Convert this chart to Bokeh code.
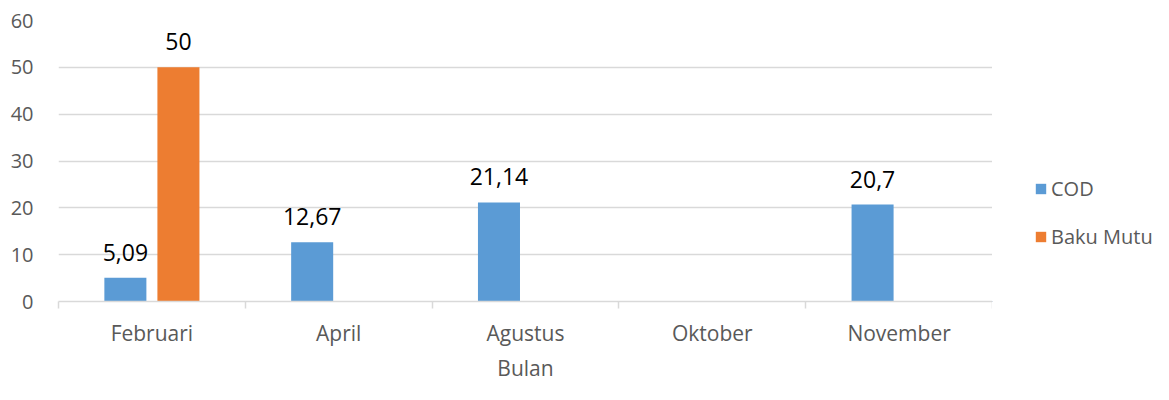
from bokeh.plotting import figure
from bokeh.layouts import row
from bokeh.models import (ColumnDataSource, Range1d, FixedTicker, Legend, LegendItem, LabelSet)
from bokeh.core.properties import value
from bokeh.embed import file_html
from bokeh.resources import INLINE

# ---- data ----
months = ["Februari", "April", "Agustus", "Oktober", "November"]
cod = [5.09, 12.67, 21.14, None, 20.7]
baku_mutu = [50, None, None, None, None]
y_ticks = [0, 10, 20, 30, 40, 50, 60]
series_names = ["COD", "Baku Mutu"]

FONT = "Open Sans"
GRAY = "#595959"
GRID = "#d9d9d9"
BLUE = "#5b9bd5"
ORANGE = "#ed7d31"

def fmt(v):
    if float(v).is_integer():
        return str(int(v))
    return str(v).replace(".", ",")

def build(vals, offset):
    xs, ys, labels = [], [], []
    for i, v in enumerate(vals):
        if v is None:
            continue
        xs.append(i + 0.5 + offset)
        ys.append(v)
        labels.append(fmt(v))
    return ColumnDataSource(dict(x=xs, top=ys, label=labels))

src_cod = build(cod, -0.142)
src_bm = build(baku_mutu, 0.142)

p = figure(width=992, height=384, output_backend="svg", toolbar_location=None,
           x_range=Range1d(0, len(months)), y_range=Range1d(0, 60),
           min_border_left=58, min_border_top=20, min_border_bottom=70, min_border_right=0)
p.outline_line_color = None
p.background_fill_color = "white"
p.border_fill_color = "white"

p.vbar(x="x", top="top", bottom=0, width=0.225, source=src_cod, color=BLUE, line_color=None)
p.vbar(x="x", top="top", bottom=0, width=0.225, source=src_bm, color=ORANGE, line_color=None)

for src in (src_cod, src_bm):
    p.add_layout(LabelSet(x="x", y="top", text="label", source=src, text_align="center",
                          text_baseline="alphabetic", y_offset=17, text_font=value(FONT),
                          text_font_size=value("23px"), text_color=value("black")))

# axes
xa = p.xaxis[0]
xa.ticker = FixedTicker(ticks=[i + 0.5 for i in range(len(months))],
                        minor_ticks=list(range(len(months) + 1)))
xa.major_label_overrides = {i + 0.5: m for i, m in enumerate(months)}
xa.major_tick_in = 0
xa.major_tick_out = 0
xa.minor_tick_in = 0
xa.minor_tick_out = 7
xa.minor_tick_line_color = GRID
xa.minor_tick_line_width = 1.5
xa.axis_line_color = GRID
xa.axis_line_width = 1.5
xa.major_label_text_font = FONT
xa.major_label_text_font_size = "21px"
xa.major_label_text_color = GRAY
xa.major_label_standoff = 10
xa.axis_label = "Bulan"
xa.axis_label_text_font = FONT
xa.axis_label_text_font_size = "21px"
xa.axis_label_text_color = GRAY
xa.axis_label_text_font_style = "normal"
xa.axis_label_standoff = 4

ya = p.yaxis[0]
ya.ticker = FixedTicker(ticks=y_ticks)
ya.axis_line_color = None
ya.major_tick_line_color = None
ya.minor_tick_line_color = None
ya.major_label_text_font = FONT
ya.major_label_text_font_size = "20px"
ya.major_label_text_color = GRAY
ya.major_label_standoff = 19

p.xgrid.grid_line_color = None
p.ygrid.ticker = FixedTicker(ticks=y_ticks[1:])
p.ygrid.grid_line_color = GRID
p.ygrid.grid_line_width = 1.5

# legend panel (separate figure so the legend sits outside the plot frame);
# its ranges keep the proxy bars out of view, only the legend swatches show
q = figure(width=161, height=384, output_backend="svg", toolbar_location=None,
           x_range=Range1d(100, 101), y_range=Range1d(100, 101),
           x_axis_location=None, y_axis_location=None,
           min_border_left=0, min_border_right=0, min_border_top=0, min_border_bottom=0)
q.outline_line_color = None
q.xgrid.grid_line_color = None
q.ygrid.grid_line_color = None
lr1 = q.vbar(x="x", top="top", width=0.225, source=src_cod, color=BLUE, line_color=None)
lr2 = q.vbar(x="x", top="top", width=0.225, source=src_bm, color=ORANGE, line_color=None)

legend = Legend(items=[LegendItem(label=series_names[0], renderers=[lr1]),
                       LegendItem(label=series_names[1], renderers=[lr2])],
                location=(42, 51), border_line_color=None, background_fill_alpha=0,
                glyph_width=13, glyph_height=13, label_text_font=FONT,
                label_text_font_size="20px", label_text_color=GRAY,
                label_standoff=4, spacing=21, label_height=20, padding=0, margin=0)
q.add_layout(legend, "center")

layout = row(p, q, spacing=0)
open("out.html", "w").write(file_html(layout, INLINE))
